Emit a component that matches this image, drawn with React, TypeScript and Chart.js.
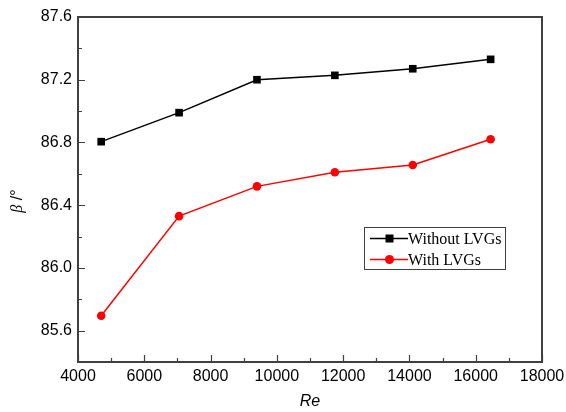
import React, { useEffect, useRef } from "react";
import { Chart, registerables } from "chart.js";

Chart.register(...registerables);

const reValues = [4700, 7050, 9400, 11750, 14100, 16450];
const withoutLVGs = [86.805, 86.99, 87.2, 87.228, 87.27, 87.33];
const withLVGs = [85.695, 86.33, 86.52, 86.61, 86.656, 86.82];
const yMajorTicks = [85.6, 86.0, 86.4, 86.8, 87.2, 87.6];
const yMinorTicks = [85.8, 86.2, 86.6, 87.0, 87.4];
const xMajorTicks = [4000, 6000, 8000, 10000, 12000, 14000, 16000, 18000];
const xMinorTicks = [5000, 7000, 9000, 11000, 13000, 15000, 17000];
const seriesNames = ["Without LVGs", "With LVGs"];

const FRAME = "#404040";

const decorPlugin = {
  id: "decor",
  afterDraw(chart: any) {
    const { ctx, chartArea, scales } = chart;
    const xs = scales.x;
    const ys = scales.y;
    const { left, right, top, bottom } = chartArea;
    ctx.save();
    // ticks (inward)
    ctx.strokeStyle = FRAME;
    ctx.lineWidth = 1.2;
    ctx.beginPath();
    xMajorTicks.forEach((v) => {
      const px = Math.round(xs.getPixelForValue(v)) + 0.5;
      ctx.moveTo(px, bottom);
      ctx.lineTo(px, bottom - 7);
    });
    xMinorTicks.forEach((v) => {
      const px = Math.round(xs.getPixelForValue(v)) + 0.5;
      ctx.moveTo(px, bottom);
      ctx.lineTo(px, bottom - 4);
    });
    yMajorTicks.forEach((v) => {
      const py = Math.round(ys.getPixelForValue(v)) + 0.5;
      ctx.moveTo(left, py);
      ctx.lineTo(left + 7, py);
    });
    yMinorTicks.forEach((v) => {
      const py = Math.round(ys.getPixelForValue(v)) + 0.5;
      ctx.moveTo(left, py);
      ctx.lineTo(left + 4, py);
    });
    ctx.stroke();
    // frame
    ctx.lineWidth = 2;
    ctx.strokeRect(left, top, right - left, bottom - top);

    // axis titles
    ctx.fillStyle = "#000";
    ctx.font = "italic 16px 'Liberation Sans', Arial, sans-serif";
    ctx.textAlign = "center";
    ctx.textBaseline = "middle";
    ctx.fillText("Re", (left + right) / 2, 402);

    ctx.save();
    ctx.translate(18, 201);
    ctx.rotate(-Math.PI / 2);
    ctx.textAlign = "left";
    ctx.font = "italic 16px 'Liberation Serif', serif";
    const bw = ctx.measureText("β").width;
    ctx.font = "16px 'Liberation Sans', Arial, sans-serif";
    const rw = ctx.measureText(" /°").width;
    const start = -(bw + rw) / 2;
    ctx.font = "italic 16px 'Liberation Serif', serif";
    ctx.fillText("β", start, 0);
    ctx.font = "16px 'Liberation Sans', Arial, sans-serif";
    ctx.fillText(" /°", start + bw, 0);
    ctx.restore();

    // legend
    const lx = 364;
    const ly = 227;
    const lw = 141;
    const lh = 42;
    ctx.fillStyle = "#fff";
    ctx.fillRect(lx, ly, lw, lh);
    ctx.strokeStyle = FRAME;
    ctx.lineWidth = 1;
    ctx.strokeRect(lx + 0.5, ly + 0.5, lw, lh);
    const rows = [
      { name: seriesNames[0], color: "#000", style: "rect", y: 238.5 },
      { name: seriesNames[1], color: "#ff0000", style: "circle", y: 259.5 },
    ];
    rows.forEach((r) => {
      ctx.strokeStyle = r.color;
      ctx.lineWidth = 1.5;
      ctx.beginPath();
      ctx.moveTo(370, r.y);
      ctx.lineTo(408, r.y);
      ctx.stroke();
      ctx.fillStyle = r.color;
      if (r.style === "rect") {
        ctx.fillRect(389.5 - 4, r.y - 4, 8, 8);
      } else {
        ctx.beginPath();
        ctx.arc(389.5, r.y, 4.5, 0, Math.PI * 2);
        ctx.fill();
      }
      ctx.fillStyle = "#000";
      ctx.font = "16px 'Liberation Serif', 'Times New Roman', serif";
      ctx.textAlign = "left";
      ctx.textBaseline = "middle";
      ctx.fillText(r.name, 408, r.y + 1);
    });
    ctx.restore();
  },
};

export default function App() {
  const ref = useRef<HTMLCanvasElement | null>(null);
  useEffect(() => {
    if (!ref.current) return;
    const chart = new Chart(ref.current, {
      type: "line",
      data: {
        datasets: [
          {
            label: seriesNames[0],
            data: reValues.map((x, i) => ({ x, y: withoutLVGs[i] })),
            borderColor: "#000",
            backgroundColor: "#000",
            borderWidth: 1.5,
            pointStyle: "rect",
            pointRadius: 5.4,
            pointBorderWidth: 0,
            tension: 0,
          },
          {
            label: seriesNames[1],
            data: reValues.map((x, i) => ({ x, y: withLVGs[i] })),
            borderColor: "#ff0000",
            backgroundColor: "#ff0000",
            borderWidth: 1.5,
            pointStyle: "circle",
            pointRadius: 4.3,
            pointBorderWidth: 0,
            tension: 0,
          },
        ],
      },
      options: {
        animation: false,
        responsive: false,
        devicePixelRatio: 1,
        layout: { padding: { left: 0, top: 17, right: 24, bottom: 0 } },
        plugins: {
          legend: { display: false },
          tooltip: { enabled: false },
        },
        scales: {
          x: {
            type: "linear",
            min: 4000,
            max: 18000,
            afterBuildTicks: (s: any) => {
              s.ticks = xMajorTicks.map((v) => ({ value: v }));
            },
            afterFit: (s: any) => {
              s.height = 50;
              s.paddingLeft = 0;
              s.paddingRight = 0;
            },
            grid: { display: false, drawTicks: false },
            border: { display: false },
            ticks: {
              autoSkip: false,
              maxRotation: 0,
              padding: 5,
              color: "#000",
              font: { family: "'Liberation Sans', Arial, sans-serif", size: 16 },
              callback: (v: any) => String(v),
            },
          },
          y: {
            type: "linear",
            min: 85.4,
            max: 87.6,
            afterBuildTicks: (s: any) => {
              s.ticks = yMajorTicks.map((v) => ({ value: v }));
            },
            afterFit: (s: any) => {
              s.width = 78;
              s.paddingTop = 0;
              s.paddingBottom = 0;
            },
            grid: { display: false, drawTicks: false },
            border: { display: false },
            ticks: {
              padding: 6,
              color: "#000",
              font: { family: "'Liberation Sans', Arial, sans-serif", size: 16 },
              callback: (v: any) => Number(v).toFixed(1),
            },
          },
        },
      },
      plugins: [decorPlugin],
    });
    return () => chart.destroy();
  }, []);
  return (
    <div style={{ position: "absolute", left: 0, top: 0, width: 566, height: 412, background: "#fff" }}>
      <canvas ref={ref} width={566} height={412} />
    </div>
  );
}
